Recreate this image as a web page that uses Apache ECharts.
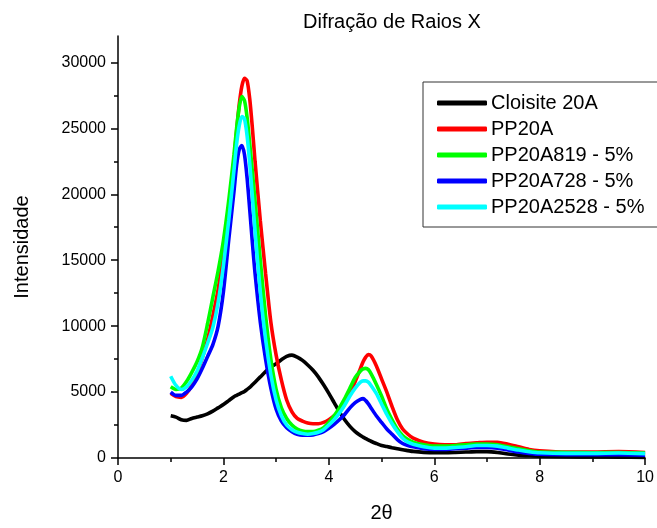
<!DOCTYPE html>
<html>
<head>
<meta charset="utf-8">
<script src="https://cdn.jsdelivr.net/npm/echarts@6/dist/echarts.min.js"></script>
<style>html,body{margin:0;padding:0;background:#fff}#c{width:657px;height:528px}</style>
</head>
<body>
<div id="c"></div>
<script>
var twoTheta = [1.0,1.1,1.2,1.3,1.4,1.5,1.6,1.7,1.8,1.9,2.0,2.1,2.2,2.25,2.3,2.35,2.4,2.45,2.5,2.55,2.6,2.7,2.8,2.9,3.0,3.1,3.2,3.3,3.4,3.5,3.6,3.7,3.8,3.9,4.0,4.1,4.2,4.3,4.4,4.5,4.6,4.65,4.7,4.75,4.8,4.9,5.0,5.1,5.2,5.3,5.4,5.5,5.6,5.8,6.0,6.2,6.4,6.6,6.8,7.0,7.2,7.4,7.6,7.8,8.0,8.5,9.0,9.5,10.0];
var cloisite20A = [3200,3100,2900,2850,3000,3100,3200,3350,3550,3800,4050,4350,4650,4750,4850,4950,5050,5200,5350,5550,5750,6150,6550,6900,7150,7450,7700,7800,7650,7400,7050,6650,6150,5550,4900,4200,3500,2900,2400,2000,1700,1580,1470,1370,1270,1100,950,870,780,700,620,560,500,430,400,400,420,450,480,480,420,300,220,170,130,100,80,70,50];
var pp20A = [4900,4650,4600,4900,5500,6400,7600,9000,10800,12800,15500,18800,22500,24800,26800,28200,28800,28600,27200,25000,22500,18000,14000,10300,7800,5900,4400,3500,3000,2800,2650,2600,2600,2700,2900,3200,3500,4100,4900,5800,6800,7300,7650,7850,7750,7000,6000,5000,3900,2900,2200,1800,1500,1200,1050,1000,1000,1100,1150,1200,1200,1050,850,650,550,450,450,480,420];
var pp20A819 = [5400,5200,5300,5800,6500,7300,8400,10200,12200,14200,16500,19500,23000,25000,26600,27400,27100,25800,23800,21700,19500,15000,10800,7500,5200,3800,3000,2500,2200,2050,2000,2000,2100,2300,2700,3200,3800,4500,5300,6100,6600,6750,6800,6700,6400,5600,4700,3700,2900,2200,1700,1400,1200,1000,900,900,950,1000,1050,1050,1000,850,700,550,450,420,400,420,380];
var pp20A728 = [5000,4750,4750,5000,5400,6000,6800,7700,8600,10000,12600,16500,20200,22200,23400,23700,23000,21200,18800,16300,14000,10300,7500,5300,3700,2800,2300,2000,1800,1720,1720,1750,1850,2000,2250,2550,2900,3300,3800,4200,4450,4500,4350,4100,3800,3200,2700,2200,1800,1400,1100,950,850,700,650,650,700,750,800,800,750,600,450,350,280,250,250,250,220];
var pp20A2528 = [6200,5500,5200,5400,5900,6600,7600,8700,9900,11800,14600,18000,21800,23800,25200,25900,25700,24400,22300,19800,17200,12600,9000,6300,4400,3200,2500,2150,1950,1850,1800,1850,1950,2150,2500,2900,3400,4000,4700,5300,5750,5850,5850,5750,5500,4900,4100,3300,2600,2000,1500,1200,1050,850,750,750,800,850,950,950,900,750,600,480,400,350,350,380,330];
var seriesNames = ['Cloisite 20A','PP20A','PP20A819 - 5%','PP20A728 - 5%','PP20A2528 - 5%'];
var seriesValues = [cloisite20A, pp20A, pp20A819, pp20A728, pp20A2528];
var seriesColors = ['#000000','#ff0000','#00ff00','#0000ff','#00ffff'];
var yMajorTicks = [0,5000,10000,15000,20000,25000,30000];
var yMinorTicks = [2500,7500,12500,17500,22500,27500];

var FONT = '"Liberation Sans", Arial, sans-serif';
var chart = echarts.init(document.getElementById('c'), null, {renderer:'canvas'});
var series = seriesValues.map(function(vals, i){
  return {
    name: seriesNames[i], type:'line', xAxisIndex:0, yAxisIndex:0,
    data: twoTheta.map(function(x, j){ return [x, vals[j]]; }),
    showSymbol:false, symbol:'none', smooth:0.25,
    lineStyle:{color:seriesColors[i], width:3.6},
    itemStyle:{color:seriesColors[i]},
    z: 2 + i, animation:false
  };
});
chart.setOption({
  animation:false,
  backgroundColor:'#fff',
  title:{text:'Difração de Raios X', left:298, top:7,
    textStyle:{fontFamily:FONT, fontSize:20, fontWeight:'normal', color:'#000'}},
  legend:{
    data: seriesNames, orient:'vertical', left:423, top:82,
    padding:[11,60,10,14], itemGap:6, itemWidth:50, itemHeight:5,
    icon:'roundRect', borderColor:'#333', borderWidth:1, backgroundColor:'#fff',
    textStyle:{fontFamily:FONT, fontSize:20, color:'#000', lineHeight:20, padding:[0,0,0,-1]}
  },
  grid:{left:118, right:9, top:36, bottom:65},
  xAxis:{type:'value', min:0, max:10, interval:2,
    name:'2θ', nameLocation:'middle', nameGap:45,
    nameTextStyle:{fontFamily:FONT, fontSize:20, color:'#000'},
    axisLine:{show:true, onZero:false, lineStyle:{color:'#000', width:1.5}},
    axisTick:{show:true, inside:false, length:7, lineStyle:{color:'#000', width:1.5}},
    minorTick:{show:true, splitNumber:2, length:4, lineStyle:{color:'#000', width:1.5}},
    axisLabel:{fontFamily:FONT, fontSize:16, color:'#000', margin:12},
    splitLine:{show:false}},
  yAxis:[{type:'value', min:0, max:32000,
    name:'Intensidade', nameLocation:'middle', nameGap:86, nameRotate:90,
    nameTextStyle:{fontFamily:FONT, fontSize:20, color:'#000'},
    axisLine:{show:true, lineStyle:{color:'#000', width:1.5}},
    axisTick:{show:true, inside:false, length:7, customValues:yMajorTicks, lineStyle:{color:'#000', width:1.5}},
    axisLabel:{fontFamily:FONT, fontSize:16, color:'#000', margin:12, customValues:yMajorTicks,
      formatter:function(v){ return String(v); }},
    splitLine:{show:false}},
   {type:'value', min:0, max:32000, position:'left',
    axisLine:{show:false},
    axisTick:{show:true, inside:false, length:4, customValues:yMinorTicks, lineStyle:{color:'#000', width:1.5}},
    axisLabel:{show:false},
    splitLine:{show:false}}],
  series: series
});
</script>
</body>
</html>
